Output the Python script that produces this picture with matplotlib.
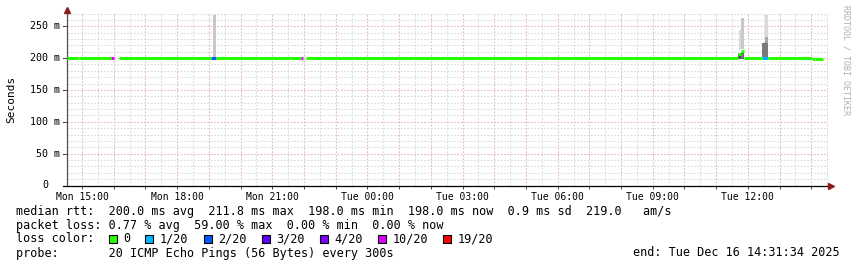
import matplotlib
matplotlib.use("Agg")
import matplotlib.pyplot as plt
from matplotlib.ticker import MultipleLocator, FuncFormatter, NullFormatter
from matplotlib.patches import Rectangle
from matplotlib.transforms import blended_transform_factory

# time axis in hours since Mon 00:00, 24 h window ending Tue 14:31:34
t_end = 24 + 14 + 31 / 60 + 34 / 3600
t_start = t_end - 24

# median rtt (ms) segments and loss per segment (pings lost of 20)
seg_t0 = [14.53, 14.92, 15.92, 16.17, 19.08, 19.24, 21.90, 22.07, 29.50, 29.73, 35.69, 35.79, 35.88, 36.45, 36.64, 38.03, 38.12]
seg_t1 = [14.92, 15.92, 16.02, 19.08, 19.24, 21.90, 21.98, 29.50, 29.73, 35.69, 35.79, 35.88, 36.45, 36.64, 38.03, 38.12, 38.37]
seg_med = [200.4, 199.6, 200.0, 200.4, 200.0, 200.2, 200.0, 200.0, 199.4, 200.0, 207.0, 211.8, 200.0, 200.0, 200.0, 199.0, 197.8]
seg_loss = [0, 0, 12, 0, 2, 0, 12, 0, 0, 0, 0, 0, 0, 1, 0, 0, 0]

# smoke (ping spread) blocks
smoke_t0 = [19.13, 35.69, 35.72, 35.79, 35.79, 36.45, 36.55, 36.55]
smoke_t1 = [19.23, 35.79, 35.79, 35.88, 35.88, 36.64, 36.64, 36.64]
smoke_lo = [200.0, 199.0, 212.0, 199.0, 214.0, 201.0, 224.0, 233.0]
smoke_hi = [268.0, 207.0, 244.0, 210.0, 263.0, 224.0, 233.0, 268.0]
smoke_col = ["#c8c8c8", "#505050", "#dadada", "#707070", "#c8c8c8", "#7a7a7a", "#a8a8a8", "#dadada"]

# loss colour buckets
loss_steps = [0, 1, 2, 3, 4, 10, 19]
loss_cols = ["#26ff00", "#00b8ff", "#0059ff", "#5e00ff", "#7e00ff", "#dd00ff", "#ff0000"]
loss_labels = ["0", "1/20", "2/20", "3/20", "4/20", "10/20", "19/20"]


def loss_color(n):
    c = loss_cols[0]
    for s, col in zip(loss_steps, loss_cols):
        if n >= s:
            c = col
    return c


W, H = 857, 267
mono = "DejaVu Sans Mono"
fig = plt.figure(figsize=(W / 100, H / 100), dpi=100)
fig.patch.set_facecolor("white")
x0, x1, ytop, ybot = 67, 828, 13.5, 185.5
ax = fig.add_axes([x0 / W, 1 - ybot / H, (x1 - x0) / W, (ybot - ytop) / H])
ax.set_xlim(t_start, t_end)
ax.set_ylim(0, 270)
for s in ax.spines.values():
    s.set_visible(False)

# grid
ax.xaxis.set_major_locator(MultipleLocator(1))
ax.xaxis.set_minor_locator(MultipleLocator(0.5))
ax.yaxis.set_major_locator(MultipleLocator(50))
ax.yaxis.set_minor_locator(MultipleLocator(10))
ax.set_axisbelow(True)
ax.grid(which="minor", color="#d9d9d9", linestyle=(0, (1.6, 1.6)), linewidth=0.75)
ax.grid(which="major", color="#eab4b4", linestyle=(0, (1.6, 1.6)), linewidth=0.75)


def xlab(v, pos):
    h = int(round(v))
    if h % 3:
        return ""
    day = "Mon" if h < 24 else "Tue"
    return f"{day} {h % 24:02d}:00"


ax.xaxis.set_major_formatter(FuncFormatter(xlab))
ax.xaxis.set_minor_formatter(NullFormatter())
ax.tick_params(axis="x", which="major", length=2, width=0.7, color="#404040", pad=2.5,
               labelsize=7, labelfontfamily=mono)
ax.tick_params(axis="x", which="minor", length=0)
ax.tick_params(axis="y", which="both", length=0, labelleft=False)

# y labels
ytr = blended_transform_factory(fig.transFigure, ax.transData)
for v in range(0, 251, 50):
    if v:
        fig.text(60 / W, v, f"{v} m", transform=ytr, ha="right", va="center",
                 fontsize=7.2, family=mono)
    else:
        fig.text(48 / W, v, "0", transform=ytr, ha="right", va="center",
                 fontsize=7.2, family=mono)
    ax.plot([-4 / (x1 - x0), 0], [v, v], transform=blended_transform_factory(ax.transAxes, ax.transData),
            color="#404040", lw=0.7, clip_on=False)

# smoke
for a, b, lo, hi, c in zip(smoke_t0, smoke_t1, smoke_lo, smoke_hi, smoke_col):
    ax.bar(a, hi - lo, width=b - a, bottom=lo, align="edge", color=c, linewidth=0, zorder=2)

# median line
ax.hlines(seg_med, seg_t0, seg_t1, colors=[loss_color(n) for n in seg_loss],
          linewidth=2.2, zorder=3)

# axes lines with arrows
axc = "#505050"
ax.plot([0, 0], [0, 1 + 3.5 / (ybot - ytop)], transform=ax.transAxes, color=axc, lw=0.9, clip_on=False)
ax.plot([-4 / (x1 - x0), 1 + 2 / (x1 - x0)], [0, 0], transform=ax.transAxes, color="#000000", lw=0.9, clip_on=False)
ax.plot([0], [1 + 4 / (ybot - ytop)], marker="^", ms=4, color="#8b1a1a", transform=ax.transAxes, clip_on=False)
ax.plot([1 + 3 / (x1 - x0)], [0], marker=">", ms=4, color="#8b1a1a", transform=ax.transAxes, clip_on=False)

# axis title and watermark
fig.text(11 / W, 1 - 99 / H, "Seconds", rotation=90, ha="center", va="center", fontsize=8, family=mono)
fig.text(846 / W, 1 - 60 / H, "RRDTOOL / TOBI OETIKER", rotation=270, ha="center", va="center",
         fontsize=6, family=mono, color="#b0b0b0")

# legend
fs = 8.45
cw = 7.09
lines = [
    "median rtt:  200.0 ms avg  211.8 ms max  198.0 ms min  198.0 ms now  0.9 ms sd  219.0   am/s",
    "packet loss: 0.77 % avg  59.00 % max  0.00 % min  0.00 % now",
]
for i, s in enumerate(lines):
    fig.text(16 / W, 1 - (211 + 14 * i) / H, s, ha="left", va="center", fontsize=fs, family=mono)

yl = 239
fig.text(16 / W, 1 - yl / H, "loss color:", ha="left", va="center", fontsize=fs, family=mono)
xt = 123
for lab, col in zip(loss_labels, loss_cols):
    fig.patches.append(Rectangle(((xt - 14.5) / W, 1 - (yl + 4) / H), 8 / W, 8 / H,
                                 transform=fig.transFigure, facecolor=col, edgecolor="black",
                                 linewidth=0.8, figure=fig))
    fig.text(xt / W, 1 - yl / H, lab, ha="left", va="center", fontsize=fs, family=mono)
    xt += len(lab) * cw + 29.8

fig.text(16 / W, 1 - 253 / H, "probe:       20 ICMP Echo Pings (56 Bytes) every 300s",
         ha="left", va="center", fontsize=fs, family=mono)
fig.text(840 / W, 1 - 253 / H, "end: Tue Dec 16 14:31:34 2025", ha="right", va="center",
         fontsize=fs, family=mono)

fig.savefig("out.png", dpi=100, facecolor="white")
